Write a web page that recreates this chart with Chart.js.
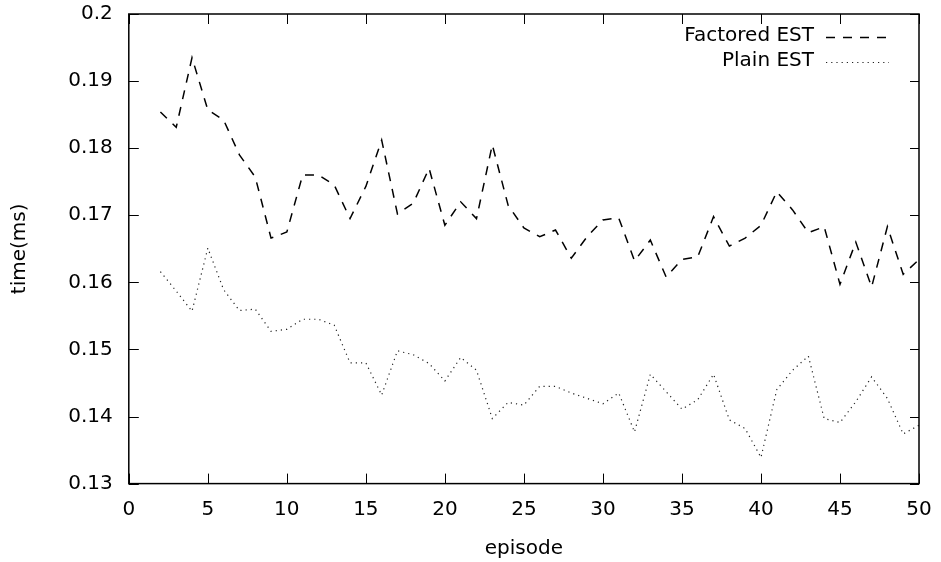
<!DOCTYPE html>
<html>
<head>
<meta charset="utf-8">
<script src="https://cdn.jsdelivr.net/npm/chart.js@4.4.0/dist/chart.umd.min.js"></script>
<style>
html,body{margin:0;padding:0;background:#fff;}
#wrap{width:941px;height:562px;}
</style>
</head>
<body>
<div id="wrap"><canvas id="c" width="941" height="562"></canvas></div>
<script>
const episodes = [2,3,4,5,6,7,8,9,10,11,12,13,14,15,16,17,18,19,20,21,22,23,24,25,26,27,28,29,30,31,32,33,34,35,36,37,38,39,40,41,42,43,44,45,46,47,48,49,50];
const factoredEST = [0.1854,0.1831,0.1935,0.1857,0.1842,0.1790,0.1757,0.1666,0.1675,0.1760,0.1760,0.1745,0.1695,0.1743,0.1812,0.1702,0.1718,0.1770,0.1685,0.1720,0.1695,0.1805,0.1715,0.1681,0.1668,0.1678,0.1636,0.1668,0.1693,0.1696,0.1632,0.1663,0.1608,0.1634,0.1638,0.1698,0.1654,0.1666,0.1685,0.1735,0.1708,0.1674,0.1683,0.1597,0.1660,0.1593,0.1683,0.1612,0.1634];
const plainEST = [0.1616,0.1587,0.1557,0.1651,0.1589,0.1558,0.1560,0.1527,0.1530,0.1545,0.1545,0.1536,0.1480,0.1480,0.1432,0.1498,0.1492,0.1479,0.1453,0.1488,0.1469,0.1397,0.1421,0.1417,0.1445,0.1445,0.1435,0.1427,0.1419,0.1435,0.1377,0.1463,0.1437,0.1411,0.1425,0.1463,0.1395,0.1382,0.1339,0.1440,0.1469,0.1490,0.1397,0.1391,0.1422,0.1459,0.1427,0.1374,0.1387];
const xTicks = [0,5,10,15,20,25,30,35,40,45,50];
const yTicks = [0.13,0.14,0.15,0.16,0.17,0.18,0.19,0.2];
const seriesNames = ['Factored EST','Plain EST'];
const xTitle = 'episode';
const yTitle = 'time(ms)';

const FONT = 'DejaVu Sans';

const framePlugin = {
  id: 'frame',
  afterDatasetsDraw(chart) {
    const {ctx, chartArea: a, scales: {x, y}} = chart;
    ctx.save();
    ctx.strokeStyle = '#000';
    ctx.lineWidth = 1;
    ctx.setLineDash([]);
    ctx.beginPath();
    xTicks.forEach(v => {
      const px = Math.round(x.getPixelForValue(v)) + 0.5;
      ctx.moveTo(px, a.bottom); ctx.lineTo(px, a.bottom - 10);
      ctx.moveTo(px, a.top); ctx.lineTo(px, a.top + 10);
    });
    yTicks.forEach(v => {
      const py = Math.round(y.getPixelForValue(v)) + 0.5;
      ctx.moveTo(a.left, py); ctx.lineTo(a.left + 10, py);
      ctx.moveTo(a.right, py); ctx.lineTo(a.right - 9, py);
    });
    ctx.stroke();
    ctx.lineWidth = 1.5;
    ctx.strokeRect(a.left, a.top, a.right - a.left, a.bottom - a.top);

    // legend (gnuplot style: text right-aligned, sample on the right)
    ctx.font = '20px "' + FONT + '"';
    ctx.fillStyle = '#000';
    ctx.textAlign = 'right';
    ctx.textBaseline = 'middle';
    const textRight = 814, sx0 = 826, sx1 = 889;
    chart.data.datasets.forEach((ds, i) => {
      const cy = 36 + i * 25;
      ctx.fillText(ds.label, textRight, cy);
      ctx.save();
      ctx.strokeStyle = ds.borderColor;
      ctx.lineWidth = ds.borderWidth;
      ctx.setLineDash(ds.borderDash);
      ctx.beginPath();
      ctx.moveTo(sx0, cy + 1.5); ctx.lineTo(sx1, cy + 1.5);
      ctx.stroke();
      ctx.restore();
    });
    ctx.restore();
  }
};

new Chart(document.getElementById('c'), {
  type: 'line',
  data: {
    datasets: [
      {
        label: seriesNames[0],
        data: episodes.map((e, i) => ({x: e, y: factoredEST[i]})),
        borderColor: '#000',
        borderWidth: 1.5,
        borderDash: [9, 8],
        pointRadius: 0,
        tension: 0,
        fill: false
      },
      {
        label: seriesNames[1],
        data: episodes.map((e, i) => ({x: e, y: plainEST[i]})),
        borderColor: '#222',
        borderWidth: 1.2,
        borderDash: [1.2, 4],
        pointRadius: 0,
        tension: 0,
        fill: false
      }
    ]
  },
  options: {
    responsive: false,
    animation: false,
    devicePixelRatio: 1,
    layout: {padding: {left: 0, right: 22, top: 14, bottom: 0}},
    plugins: {legend: {display: false}, tooltip: {enabled: false}},
    scales: {
      x: {
        type: 'linear',
        min: 0, max: 50,
        afterBuildTicks: s => { s.ticks = xTicks.map(v => ({value: v})); },
        afterFit: s => { s.height = 78.4; s.paddingLeft = 0; s.paddingRight = 0; s.paddingTop = 0; s.paddingBottom = 0; },
        grid: {display: false, drawTicks: false},
        border: {display: false},
        ticks: {color: '#000', padding: 14, font: {family: FONT, size: 20}, callback: v => String(v), maxRotation: 0},
        title: {display: true, text: xTitle, color: '#000', font: {family: FONT, size: 20}, padding: {top: 0, bottom: 1}}
      },
      y: {
        type: 'linear',
        min: 0.13, max: 0.2,
        afterBuildTicks: s => { s.ticks = yTicks.map(v => ({value: v})); },
        afterFit: s => { s.width = 128.8; s.paddingLeft = 0; s.paddingRight = 0; s.paddingTop = 0; s.paddingBottom = 0; },
        grid: {display: false, drawTicks: false},
        border: {display: false},
        ticks: {color: '#000', padding: 16, font: {family: FONT, size: 20}, callback: v => String(+v.toFixed(2))},
        title: {display: true, text: yTitle, color: '#000', font: {family: FONT, size: 20}, padding: {top: 8, bottom: 0}}
      }
    }
  },
  plugins: [framePlugin]
});
</script>
</body>
</html>
